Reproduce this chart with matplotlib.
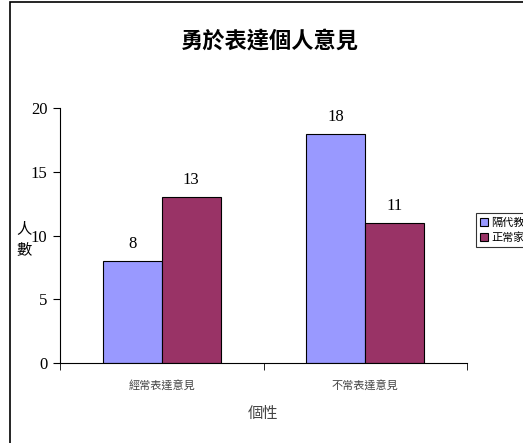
import numpy as np
import matplotlib.pyplot as plt
from matplotlib.patches import Rectangle

plt.rcParams['font.family'] = ['Liberation Serif', 'Noto Sans CJK TC', 'DejaVu Sans']

categories = ["經常表達意見", "不常表達意見"]
series_names = ["隔代教養", "正常家庭"]
grandparent = [8, 18]
normal = [13, 11]
colors = ["#9999FF", "#993366"]

W, H = 523, 443
fig = plt.figure(figsize=(W / 100, H / 100), dpi=100)
ax = fig.add_axes([60 / W, 1 - 363 / H, 407 / W, 255 / H])

x = np.arange(len(categories))
bw = 0.29
b1 = ax.bar(x - bw / 2, grandparent, bw, color=colors[0], edgecolor="black", linewidth=0.8, label=series_names[0])
b2 = ax.bar(x + bw / 2, normal, bw, color=colors[1], edgecolor="black", linewidth=0.8, label=series_names[1])

for bars, vals in [(b1, grandparent), (b2, normal)]:
    for r, v in zip(bars, vals):
        ax.text(r.get_x() + r.get_width() / 2, v + 0.7, str(v), ha="center", va="bottom", fontsize=12)

ax.set_xlim(-0.5, 1.5)
ax.set_ylim(0, 20)
ax.set_yticks([0, 5, 10, 15, 20])
ax.tick_params(axis="y", labelsize=12, direction="out", length=5, pad=4)
ax.set_xticks(x)
ax.set_xticklabels(categories, family=['Noto Sans CJK TC'], fontsize=8, color="#444444")
ax.tick_params(axis="x", length=0, pad=12)
ax.set_xticks([-0.5, 0.5, 1.5], minor=True)
ax.tick_params(axis="x", which="minor", length=5, direction="out")
ax.spines["top"].set_visible(False)
ax.spines["right"].set_visible(False)

fig.text(270 / W, 1 - 42 / H, "勇於表達個人意見", ha="center", va="center",
         family=['Noto Sans CJK TC'], fontsize=16, fontweight="bold")
fig.text(263 / W, 1 - 413 / H, "個性", ha="center", va="center",
         family=['Noto Sans CJK TC'], fontsize=11, color="#444444")
fig.text(24 / W, 1 - 239 / H, "人\n數", ha="center", va="center",
         family=['Noto Sans CJK TC'], fontsize=11, linespacing=1.3)

leg = fig.legend(loc="upper left", bbox_to_anchor=(476 / W, 1 - 213 / H), frameon=True,
                 fancybox=False, edgecolor="black", prop={'family': 'Noto Sans CJK TC', 'size': 8},
                 handlelength=0.7, handleheight=0.7, handletextpad=0.3, borderpad=0.4,
                 labelspacing=0.4, borderaxespad=0)
leg.get_frame().set_linewidth(0.8)

fig.patches.append(Rectangle((10 / W, -0.1), 1.2, 1 - 2 / H + 0.1, transform=fig.transFigure,
                             fill=False, edgecolor="black", linewidth=1.2))

fig.savefig("out.png", dpi=100)
